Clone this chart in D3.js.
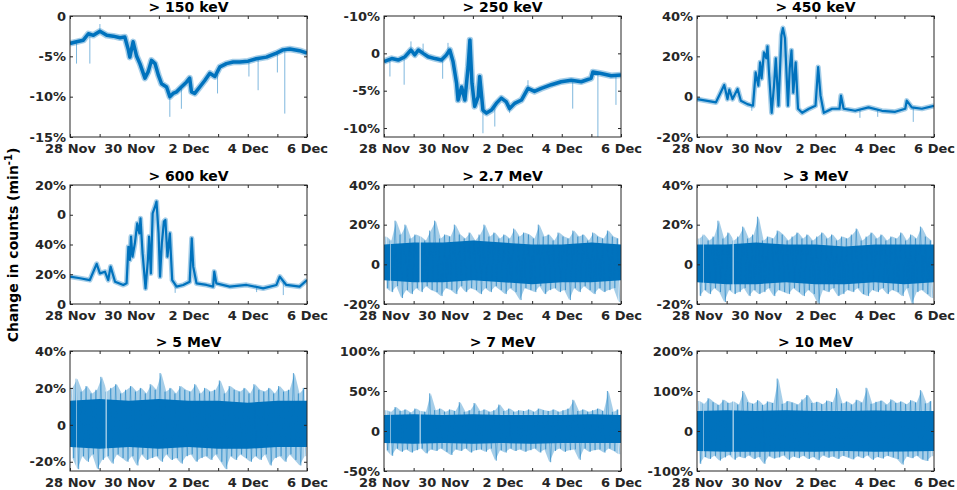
<!DOCTYPE html>
<html>
<head>
<meta charset="utf-8">
<script src="https://cdn.jsdelivr.net/npm/d3@7"></script>
<style>
  body { margin: 0; background: #fff; }
  text { font-family: "DejaVu Sans", sans-serif; font-weight: bold; }
</style>
</head>
<body>
<div id="chart"></div>
<script>
// times are in days after 28 Nov 00:00

// > 150 keV
const t150 = [0,0.22,0.45,0.62,0.79,1.01,1.24,1.46,1.69,1.85,1.97,2.02,2.13,2.25,2.36,2.53,2.64,2.75,2.87,2.98,3.09,3.26,3.37,3.48,3.6,3.76,3.93,4.04,4.1,4.21,4.38,4.55,4.72,4.89,5.06,5.28,5.51,5.73,6.01,6.29,6.63,6.97,7.19,7.42,7.75,8];
const v150 = [-3.4,-3.2,-3.0,-2.2,-2.4,-1.9,-2.4,-2.5,-2.7,-2.6,-4.2,-5.1,-3.2,-5.0,-5.9,-7.7,-6.9,-5.5,-5.9,-7.3,-8.4,-8.8,-10.0,-9.6,-9.4,-8.8,-8.2,-7.7,-9.4,-9.6,-8.8,-8.0,-7.1,-7.5,-6.3,-5.9,-5.7,-5.7,-5.6,-5.3,-5.1,-4.6,-4.2,-4.1,-4.3,-4.6];
const spk150 = [[0.22,-5.9],[0.67,-5.9],[1.01,-1.0],[3.37,-12.5],[3.76,-11.5],[4.98,-9.6],[6.04,-7.5],[6.35,-9.2],[7.0,-7.0],[7.25,-12.1]];

// > 250 keV
const t250 = [0,0.26,0.48,0.71,0.91,1.04,1.16,1.32,1.49,1.72,1.94,2.11,2.22,2.33,2.45,2.5,2.62,2.73,2.84,2.9,2.97,3.06,3.18,3.23,3.34,3.46,3.63,3.79,3.96,4.13,4.24,4.41,4.64,4.86,5.08,5.31,5.65,5.98,6.32,6.66,6.99,7.05,7.33,7.67,8];
const v250 = [-1.1,-0.7,-0.9,-0.45,0.45,-0.2,0.45,0,-0.45,-0.7,-0.9,-0.2,0.45,-1.1,-4.0,-6.25,-4.5,-6.25,-1.8,1.8,-4.0,-7.1,-5.8,-3.1,-7.6,-8.0,-7.6,-6.7,-6.0,-6.5,-7.4,-6.7,-6.25,-4.7,-5.1,-4.7,-4.2,-3.8,-3.6,-3.8,-3.35,-2.5,-2.7,-3.0,-2.9];
const spk250 = [[0.2,-3.1],[0.68,-4.2],[0.91,1.6],[1.32,1.3],[1.98,-3.4],[2.16,1.4],[3.34,-10.7],[3.74,-9.8],[4.24,-8.0],[4.86,-3.6],[6.37,-7.4],[7.22,-11.2],[7.83,-6.9]];

// > 450 keV
const t450 = [0,0.3,0.64,0.92,1.03,1.09,1.2,1.37,1.48,1.7,1.89,1.98,2.07,2.13,2.18,2.26,2.34,2.38,2.43,2.52,2.6,2.66,2.75,2.85,2.9,2.97,3.01,3.07,3.13,3.19,3.25,3.33,3.41,3.55,3.78,4.0,4.09,4.17,4.28,4.56,4.81,4.86,4.95,5.34,5.79,6.24,6.69,7.03,7.08,7.25,7.59,8];
const v450 = [-1.2,-2,-2.8,5.8,-1.2,3.5,-1.2,3.8,-2,-3.7,-4.5,12,5.5,17,9,22,19,25,12,-8,5.5,19,-4.5,30.5,34,29,15.5,-4.5,14,23,2,17,-6,-8,-6,-4.5,14.7,0.5,-8,-6,-6,0.5,-6,-7,-5.3,-7,-7.5,-6,-2,-5.3,-6,-4.5];
const spk450 = [[5.5,-10.5],[6.1,-10],[7.3,-12.5],[1.85,-7]];

// > 600 keV
const t600 = [0,0.34,0.67,0.9,1.01,1.18,1.29,1.37,1.52,1.8,1.91,1.97,2.02,2.06,2.11,2.19,2.27,2.34,2.38,2.45,2.55,2.63,2.67,2.73,2.79,2.87,2.92,2.99,3.04,3.1,3.17,3.22,3.29,3.37,3.45,3.6,3.82,4.04,4.11,4.16,4.27,4.61,4.83,4.87,4.94,5.39,5.96,6.52,6.97,7.08,7.3,7.75,8];
const v600 = [18.4,17.3,16.1,27,20.6,21.7,16.1,25.1,15,12.8,13.9,38.5,29.6,45.3,31.8,40.8,54.2,47.5,57.6,34,10.5,29.6,45.3,20.6,61,65.4,68.8,47.5,18.4,40.8,55.4,56.5,31.8,47.5,16.1,11.7,12.8,15,44.1,25.1,13.9,12.8,11.7,21.7,13.9,11.7,12.8,10.5,12.8,18.4,12.8,11.7,16.1];
const spk600 = [[3.55,7.5],[6.3,8],[7.2,6]];

// noisy channels: spike tops/bottoms every 4 h, core band once a day
const up27 = [14,12,22,15,20,13,15,14,12,17,22,13,15,14,20,15,13,16,12,15,20,14,16,13,15,13,18,14,16,15,13,20,14,15,12,16,14,13,17,14,15,12,16,14,13,17,14,13];
const dn27 = [-12,-14,-11,-17,-13,-15,-12,-14,-11,-13,-14,-16,-12,-13,-15,-11,-14,-12,-13,-15,-12,-14,-11,-13,-15,-12,-14,-18,-12,-13,-14,-11,-15,-13,-12,-14,-13,-18,-12,-14,-11,-13,-15,-12,-14,-13,-12,-19];
const hi27 = [10,11,11,12,11,10,10,11,10];
const lo27 = [-8,-9,-9,-8,-9,-10,-9,-9,-8];

const up3 = [13,15,12,14,22,13,16,12,14,19,13,15,24,12,14,13,17,15,12,14,16,13,15,12,14,16,13,15,12,14,13,15,18,12,14,16,13,15,12,14,13,16,12,15,13,19,14,12];
const dn3 = [-16,-13,-15,-12,-14,-19,-13,-15,-14,-12,-16,-13,-15,-14,-12,-16,-13,-14,-15,-12,-14,-16,-13,-15,-20,-13,-14,-12,-16,-15,-13,-14,-12,-15,-16,-13,-14,-12,-15,-13,-14,-16,-12,-20,-14,-13,-15,-17];
const hi3 = [10,10,11,10,10,9,10,10,10];
const lo3 = [-9,-10,-10,-9,-10,-10,-9,-10,-9];

const up5 = [20,25,18,21,17,19,26,18,20,22,17,19,21,18,20,17,22,19,28,18,20,17,21,19,18,22,17,20,18,19,24,17,21,19,18,20,17,22,19,18,20,17,21,18,19,28,17,20];
const dn5 = [-18,-24,-17,-20,-16,-24,-19,-17,-21,-16,-18,-20,-17,-22,-16,-19,-18,-17,-20,-16,-19,-18,-21,-17,-16,-20,-18,-17,-19,-16,-20,-24,-17,-19,-16,-18,-20,-17,-19,-16,-22,-18,-17,-20,-16,-19,-22,-17];
const hi5 = [13,14,13,14,13,13,12,13,13];
const lo5 = [-12,-13,-12,-13,-12,-13,-13,-12,-12];

const up7 = [26,24,30,25,27,23,28,25,24,47,26,28,24,27,25,36,24,26,35,25,27,24,26,33,25,28,24,26,25,27,24,28,26,25,27,24,26,28,39,25,27,24,26,28,25,50,24,27];
const dn7 = [-24,-31,-22,-26,-23,-27,-24,-22,-28,-23,-25,-22,-26,-30,-23,-25,-22,-27,-24,-23,-26,-22,-37,-24,-27,-22,-25,-23,-26,-24,-22,-27,-23,-39,-25,-22,-26,-24,-23,-36,-22,-26,-24,-23,-27,-22,-25,-29];
const hi7 = [20,21,20,21,20,20,20,21,20];
const lo7 = [-15,-16,-15,-16,-15,-16,-15,-15,-15];

const up10 = [75,68,82,72,65,78,70,74,66,100,72,68,77,65,74,70,131,68,75,71,66,79,90,70,73,67,76,72,107,69,74,66,78,71,108,68,73,76,66,79,70,74,67,77,71,102,69,75];
const dn10 = [-82,-65,-70,-62,-74,-66,-60,-72,-64,-68,-61,-70,-65,-82,-63,-69,-66,-61,-72,-64,-68,-62,-70,-65,-73,-61,-67,-64,-70,-62,-66,-71,-63,-68,-61,-72,-65,-69,-62,-66,-70,-84,-64,-68,-62,-71,-75,-63];
const hi10 = [50,52,50,52,50,50,51,50,50];
const lo10 = [-50,-52,-52,-51,-52,-50,-52,-51,-50];

// data gaps (days)
const gapDays = [0.22, 1.22];

const panels = [
  { title: "> 150 keV", row: 0, col: 0, domain: [-15, 0], ticks: [0, -5, -10, -15], labels: ["0", "-5%", "-10%", "-15%"], kind: "trend", t: t150, v: v150, spikes: spk150, lw: 3.5 },
  { title: "> 250 keV", row: 0, col: 1, domain: [-11.2, 5], ticks: [5, 0, -5, -10], labels: ["-10%", "0", "-5%", "-10%"], kind: "trend", t: t250, v: v250, spikes: spk250, lw: 3.5 },
  { title: "> 450 keV", row: 0, col: 2, domain: [-20, 40], ticks: [40, 20, 0, -20], labels: ["40%", "20%", "0", "-20%"], kind: "trend", t: t450, v: v450, spikes: spk450, lw: 2.2 },
  { title: "> 600 keV", row: 1, col: 0, domain: [0, 80], ticks: [80, 60, 40, 20, 0], labels: ["20%", "0", "40%", "20%", "0"], kind: "trend", t: t600, v: v600, spikes: spk600, lw: 2.2 },
  { title: "> 2.7 MeV", row: 1, col: 1, domain: [-20, 40], ticks: [40, 20, 0, -20], labels: ["40%", "20%", "0", "-20%"], kind: "noise", up: up27, dn: dn27, hi: hi27, lo: lo27 },
  { title: "> 3 MeV", row: 1, col: 2, domain: [-20, 40], ticks: [40, 20, 0, -20], labels: ["40%", "20%", "0", "-20%"], kind: "noise", up: up3, dn: dn3, hi: hi3, lo: lo3 },
  { title: "> 5 MeV", row: 2, col: 0, domain: [-25, 40], ticks: [40, 20, 0, -20], labels: ["40%", "20%", "0", "-20%"], kind: "noise", up: up5, dn: dn5, hi: hi5, lo: lo5 },
  { title: "> 7 MeV", row: 2, col: 1, domain: [-50, 100], ticks: [100, 50, 0, -50], labels: ["100%", "50%", "0", "-50%"], kind: "noise", up: up7, dn: dn7, hi: hi7, lo: lo7 },
  { title: "> 10 MeV", row: 2, col: 2, domain: [-100, 200], ticks: [200, 100, 0, -100], labels: ["200%", "100%", "0", "-100%"], kind: "noise", up: up10, dn: dn10, hi: hi10, lo: lo10 }
];

const start = new Date(2017, 10, 28);
const end = new Date(2017, 11, 6);
const toDate = (d) => new Date(start.getTime() + d * 864e5);
const days = d3.timeDay.range(start, d3.timeDay.offset(end, 1));
const dayFmt = d3.timeFormat("%-d %b");

const width = 957, height = 490;
const colX = [70, 384, 697];
const plotW = 237;
const rowTop = [16, 185, 351];
const rowBot = [137, 304, 471];
const blue = "#0072BD";
const ink = "#262626";

const svg = d3.select("#chart").append("svg")
  .attr("width", width)
  .attr("height", height);

panels.forEach((p, i) => {
  const top = rowTop[p.row];
  const h = rowBot[p.row] - top;
  const g = svg.append("g").attr("transform", `translate(${colX[p.col]},${top})`);

  const x = d3.scaleTime().domain([start, end]).range([0, plotW]);
  const y = d3.scaleLinear().domain(p.domain).range([h, 0]);

  g.append("clipPath").attr("id", "clip" + i)
    .append("rect").attr("width", plotW).attr("height", h);
  const plot = g.append("g").attr("clip-path", `url(#clip${i})`);

  const line = d3.line()
    .x((d) => x(toDate(d[0])))
    .y((d) => y(d[1]));

  if (p.kind === "trend") {
    const pts = p.t.map((t, j) => [t, p.v[j]]);
    const base = d3.scaleLinear().domain(p.t).range(p.v);

    // light spikes
    plot.selectAll(".spike")
      .data(p.spikes)
      .join("line")
      .attr("class", "spike")
      .attr("x1", (d) => x(toDate(d[0])))
      .attr("x2", (d) => x(toDate(d[0])))
      .attr("y1", (d) => y(base(d[0])))
      .attr("y2", (d) => y(d[1]))
      .attr("stroke", blue)
      .attr("stroke-opacity", 0.5)
      .attr("stroke-width", 1);

    // fuzzy noise band, then the main trace
    plot.append("path").datum(pts)
      .attr("d", line)
      .attr("fill", "none")
      .attr("stroke", blue)
      .attr("stroke-opacity", 0.35)
      .attr("stroke-width", p.lw + 3)
      .attr("stroke-linejoin", "round");
    plot.append("path").datum(pts)
      .attr("d", line)
      .attr("fill", "none")
      .attr("stroke", blue)
      .attr("stroke-width", p.lw)
      .attr("stroke-linejoin", "round");
  } else {
    // light envelope of the spikes
    const env = d3.area()
      .x((d, j) => x(toDate((4 * j + 2) / 24)))
      .y0((d) => y(d[0]))
      .y1((d) => y(d[1]));
    plot.append("path")
      .datum(p.up.map((u, j) => [p.dn[j], u]))
      .attr("d", env)
      .attr("fill", blue)
      .attr("fill-opacity", 0.35);

    // dense core of the noise
    const area = d3.area()
      .x((d, k) => x(toDate(k)))
      .y0((d) => y(d[0]))
      .y1((d) => y(d[1]));
    plot.append("path")
      .datum(p.lo.map((l, k) => [l, p.hi[k]]))
      .attr("d", area)
      .attr("fill", blue);

    // individual spikes
    const zz = [];
    p.up.forEach((u, j) => {
      zz.push([(4 * j + 1) / 24, u]);
      zz.push([(4 * j + 3) / 24, p.dn[j]]);
    });
    plot.append("path").datum(zz)
      .attr("d", line)
      .attr("fill", "none")
      .attr("stroke", blue)
      .attr("stroke-opacity", 0.45)
      .attr("stroke-width", 0.9);

    // data gaps
    plot.selectAll(".gap")
      .data(gapDays)
      .join("line")
      .attr("class", "gap")
      .attr("x1", (d) => x(toDate(d)))
      .attr("x2", (d) => x(toDate(d)))
      .attr("y1", 0)
      .attr("y2", h)
      .attr("stroke", "#fff")
      .attr("stroke-opacity", (d, k) => (k === 0 ? 0.5 : 0.9))
      .attr("stroke-width", 1);
  }

  // axes, ticks pointing inward on all four sides
  const styleAxis = (sel) => {
    sel.attr("font-family", "DejaVu Sans").attr("font-size", 13).attr("font-weight", "bold");
    sel.select(".domain").remove();
    sel.selectAll("line").attr("stroke", ink);
    sel.selectAll("text").attr("fill", ink);
  };

  g.append("g")
    .attr("transform", `translate(0,${h})`)
    .call(d3.axisBottom(x).tickValues(days).tickSizeInner(-3).tickSizeOuter(0).tickPadding(7)
      .tickFormat((d) => (d3.timeDay.count(start, d) % 2 === 0 ? dayFmt(d) : "")))
    .call(styleAxis);
  g.append("g")
    .call(d3.axisTop(x).tickValues(days).tickSizeInner(-3).tickSizeOuter(0).tickFormat(""))
    .call(styleAxis);
  g.append("g")
    .call(d3.axisLeft(y).tickValues(p.ticks).tickSizeInner(-3).tickSizeOuter(0).tickPadding(4)
      .tickFormat((d, k) => p.labels[k]))
    .call(styleAxis);
  g.append("g")
    .attr("transform", `translate(${plotW},0)`)
    .call(d3.axisRight(y).tickValues(p.ticks).tickSizeInner(-3).tickSizeOuter(0).tickFormat(""))
    .call(styleAxis);

  g.append("rect")
    .attr("width", plotW)
    .attr("height", h)
    .attr("fill", "none")
    .attr("stroke", ink)
    .attr("stroke-width", 1);

  g.append("text")
    .attr("x", plotW / 2)
    .attr("y", -4)
    .attr("text-anchor", "middle")
    .attr("font-size", 14)
    .attr("fill", "#000")
    .text(p.title);
});

// shared y label
const ylab = svg.append("text")
  .attr("transform", "translate(18,245) rotate(-90)")
  .attr("text-anchor", "middle")
  .attr("font-size", 14)
  .attr("fill", "#000");
ylab.append("tspan").text("Change in counts (min");
ylab.append("tspan").attr("font-size", 10).attr("dy", -6).text("-1");
ylab.append("tspan").attr("dy", 6).text(")");
</script>
</body>
</html>
